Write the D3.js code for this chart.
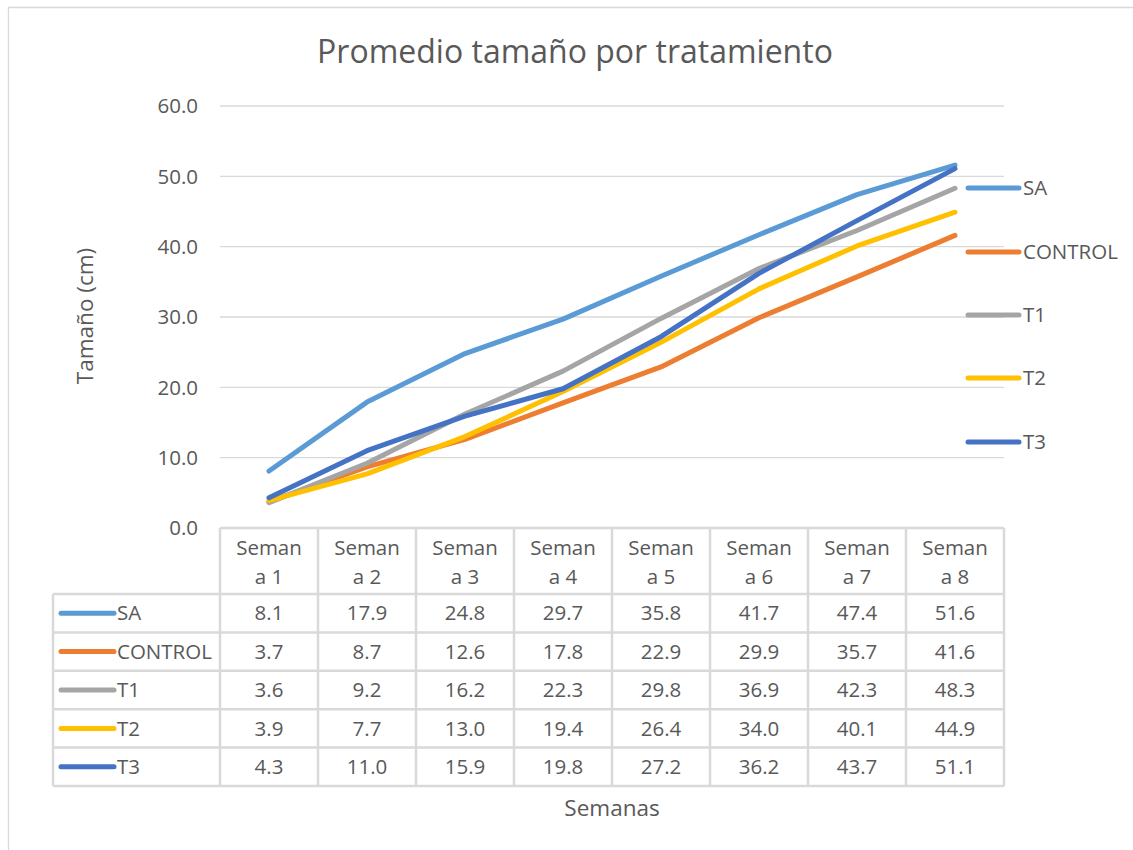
<!DOCTYPE html>
<html>
<head>
<meta charset="utf-8">
<script src="https://d3js.org/d3.v7.min.js"></script>
<style>
	body { margin: 0; background: #fff; }
	svg { display: block; font-family: "Open Sans", "Noto Sans", sans-serif; }
	.grid line { stroke: #d9d9d9; stroke-width: 1.3px; }
	.line { fill: none; stroke-width: 5px; stroke-linecap: round; stroke-linejoin: round; }
	.txt { fill: #595959; }
</style>
</head>
<body>
<div id="chart"></div>
<script>
(function () {
	"use strict";

	var categories = ["Semana 1", "Semana 2", "Semana 3", "Semana 4", "Semana 5", "Semana 6", "Semana 7", "Semana 8"];
	var seriesNames = ["SA", "CONTROL", "T1", "T2", "T3"];
	var seriesColors = ["#5b9bd5", "#ed7d31", "#a5a5a5", "#ffc000", "#4472c4"];
	var SA = [8.1, 17.9, 24.8, 29.7, 35.8, 41.7, 47.4, 51.6];
	var CONTROL = [3.7, 8.7, 12.6, 17.8, 22.9, 29.9, 35.7, 41.6];
	var T1 = [3.6, 9.2, 16.2, 22.3, 29.8, 36.9, 42.3, 48.3];
	var T2 = [3.9, 7.7, 13.0, 19.4, 26.4, 34.0, 40.1, 44.9];
	var T3 = [4.3, 11.0, 15.9, 19.8, 27.2, 36.2, 43.7, 51.1];
	var yTicks = [0, 10, 20, 30, 40, 50, 60];
	var seriesValues = [SA, CONTROL, T1, T2, T3];

	var width = 1133, height = 850,
		plotLeft = 220, plotRight = 1004, plotTop = 106, plotBottom = 528,
		tableLeft = 53, headerBottom = 594, rowHeight = 38.4,
		labelSize = "20.5px";

	var svg = d3.select("#chart").append("svg")
		.attr("width", width)
		.attr("height", height);

	// outer frame (only top and left visible)
	svg.append("path")
		.attr("d", "M8.5," + height + "V7.5H" + width)
		.attr("fill", "none")
		.attr("stroke", "#d9d9d9")
		.attr("stroke-width", 1.3);

	var x = d3.scaleBand().domain(categories).range([plotLeft, plotRight]);
	var y = d3.scaleLinear().domain([0, 60]).range([plotBottom, plotTop]);

	// gridlines
	svg.append("g").attr("class", "grid")
		.selectAll("line").data(yTicks).join("line")
		.attr("x1", plotLeft).attr("x2", plotRight)
		.attr("y1", function (d) { return y(d); })
		.attr("y2", function (d) { return y(d); });

	// y tick labels
	svg.append("g").selectAll("text").data(yTicks).join("text")
		.attr("class", "txt")
		.attr("x", 198)
		.attr("y", function (d) { return y(d); })
		.attr("dy", "0.35em")
		.attr("text-anchor", "end")
		.style("font-size", labelSize)
		.text(function (d) { return d3.format(".1f")(d); });

	// title & axis titles
	svg.append("text").attr("class", "txt")
		.attr("x", 575).attr("y", 63)
		.attr("text-anchor", "middle")
		.style("font-size", "32px")
		.text("Promedio tamaño por tratamiento");

	svg.append("text").attr("class", "txt")
		.attr("transform", "translate(93,316) rotate(-90)")
		.attr("text-anchor", "middle")
		.style("font-size", "22.5px")
		.text("Tamaño (cm)");

	svg.append("text").attr("class", "txt")
		.attr("x", 612).attr("y", 816)
		.attr("text-anchor", "middle")
		.style("font-size", "22.5px")
		.text("Semanas");

	// data table
	var table = svg.append("g");
	var tableBottom = headerBottom + rowHeight * seriesNames.length;
	var gridStyle = function (sel) {
		sel.attr("stroke", "#d9d9d9").attr("stroke-width", 2.5).attr("fill", "none");
	};
	// vertical lines
	var colEdges = categories.map(function (c) { return x(c); }).concat([plotRight]);
	table.selectAll("line.v").data(colEdges).join("line")
		.attr("class", "v")
		.attr("x1", function (d) { return d; }).attr("x2", function (d) { return d; })
		.attr("y1", plotBottom).attr("y2", tableBottom)
		.call(gridStyle);
	table.append("line")
		.attr("x1", tableLeft).attr("x2", tableLeft)
		.attr("y1", headerBottom).attr("y2", tableBottom)
		.call(gridStyle);
	// horizontal lines
	table.append("line")
		.attr("x1", plotLeft).attr("x2", plotRight)
		.attr("y1", plotBottom).attr("y2", plotBottom)
		.call(gridStyle);
	var rowEdges = d3.range(seriesNames.length + 1).map(function (i) { return headerBottom + i * rowHeight; });
	table.selectAll("line.h").data(rowEdges).join("line")
		.attr("class", "h")
		.attr("x1", tableLeft).attr("x2", plotRight)
		.attr("y1", function (d) { return d; }).attr("y2", function (d) { return d; })
		.call(gridStyle);

	// header labels (wrapped like the original)
	categories.forEach(function (c) {
		var cx = x(c) + x.bandwidth() / 2;
		var t = table.append("text").attr("class", "txt")
			.attr("text-anchor", "middle")
			.style("font-size", labelSize);
		t.append("tspan").attr("x", cx).attr("y", 555).text(c.slice(0, 5));
		t.append("tspan").attr("x", cx).attr("y", 584).text(c.slice(5));
	});

	// rows
	seriesNames.forEach(function (name, i) {
		var cy = headerBottom + rowHeight * (i + 0.5);
		table.append("line")
			.attr("x1", 61).attr("x2", 114)
			.attr("y1", cy).attr("y2", cy)
			.attr("stroke", seriesColors[i])
			.attr("stroke-width", 5)
			.attr("stroke-linecap", "round");
		table.append("text").attr("class", "txt")
			.attr("x", 117).attr("y", cy).attr("dy", "0.35em")
			.style("font-size", labelSize)
			.text(name);
		seriesValues[i].forEach(function (v, j) {
			table.append("text").attr("class", "txt")
				.attr("x", x(categories[j]) + x.bandwidth() / 2)
				.attr("y", cy).attr("dy", "0.35em")
				.attr("text-anchor", "middle")
				.style("font-size", labelSize)
				.text(d3.format(".1f")(v));
		});
	});

	// lines
	var line = d3.line()
		.x(function (d, j) { return x(categories[j]) + x.bandwidth() / 2; })
		.y(function (d) { return y(d); });
	seriesValues.forEach(function (vals, i) {
		svg.append("path")
			.datum(vals)
			.attr("class", "line")
			.style("stroke", seriesColors[i])
			.attr("d", line);
	});

	// legend at right
	var legendY = [188, 252, 315, 378, 442];
	seriesNames.forEach(function (name, i) {
		svg.append("line")
			.attr("x1", 968).attr("x2", 1019)
			.attr("y1", legendY[i]).attr("y2", legendY[i])
			.attr("stroke", seriesColors[i])
			.attr("stroke-width", 5)
			.attr("stroke-linecap", "round");
		svg.append("text").attr("class", "txt")
			.attr("x", 1023).attr("y", legendY[i]).attr("dy", "0.35em")
			.style("font-size", labelSize)
			.text(name);
	});
})();
</script>
</body>
</html>
